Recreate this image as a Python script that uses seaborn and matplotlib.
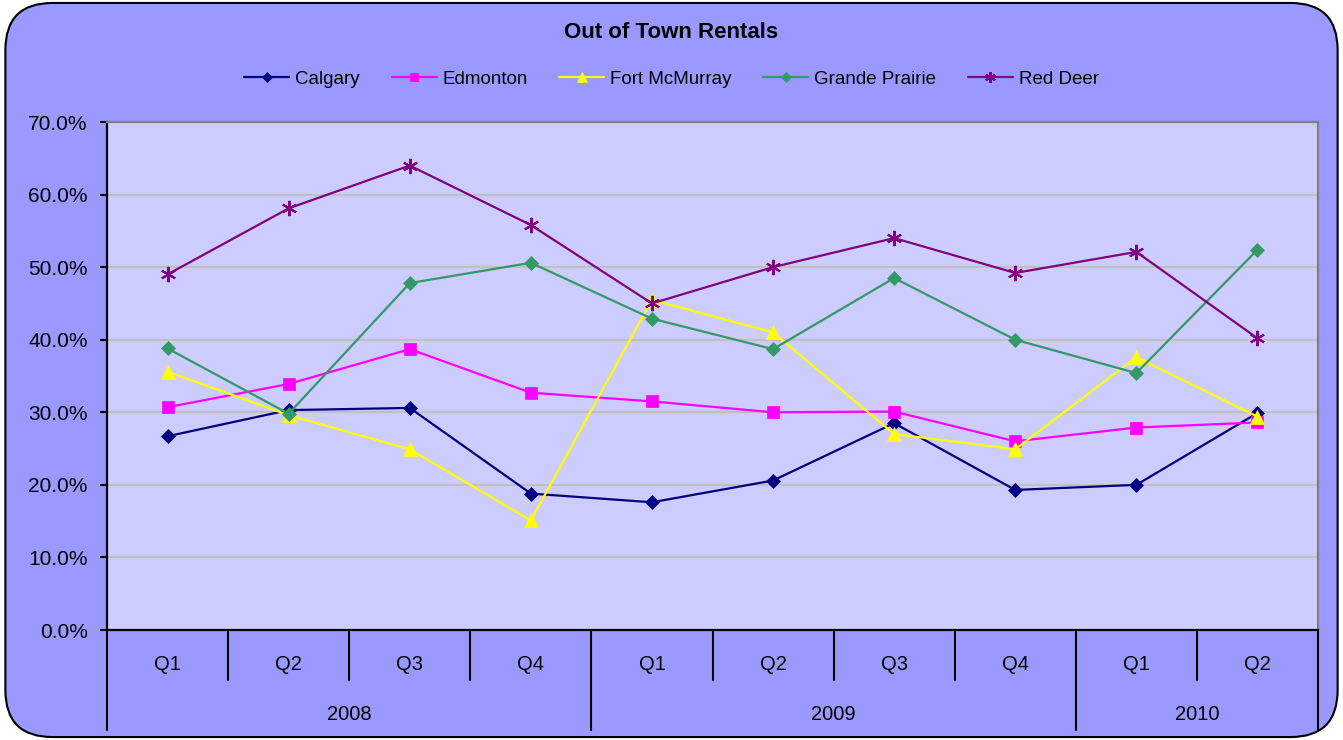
import numpy as np
import matplotlib
matplotlib.use("Agg")
import matplotlib.pyplot as plt
import seaborn as sns
from matplotlib.patches import FancyBboxPatch
from matplotlib.ticker import FuncFormatter
import matplotlib.transforms as mtransforms

# data (percent)
quarters = ["Q1", "Q2", "Q3", "Q4", "Q1", "Q2", "Q3", "Q4", "Q1", "Q2"]
years = ["2008", "2009", "2010"]
year_counts = [4, 4, 2]

calgary = [26.7, 30.3, 30.6, 18.8, 17.6, 20.6, 28.5, 19.3, 20.0, 29.9]
edmonton = [30.7, 33.9, 38.7, 32.7, 31.5, 30.0, 30.1, 26.0, 27.9, 28.6]
fort_mcmurray = [35.6, 29.6, 24.9, 15.1, 45.5, 41.0, 27.0, 24.9, 37.6, 29.4]
grande_prairie = [38.8, 29.8, 47.8, 50.6, 42.9, 38.7, 48.5, 40.0, 35.4, 52.4]
red_deer = [49.0, 58.1, 64.0, 55.8, 45.0, 50.0, 54.0, 49.2, 52.1, 40.2]

series = [
    ("Calgary", calgary, "#000080", "D", 7.5),
    ("Edmonton", edmonton, "#FF00FF", "s", 9),
    ("Fort McMurray", fort_mcmurray, "#FFFF00", "^", 9.5),
    ("Grande Prairie", grande_prairie, "#339966", "D", 7.5),
    ("Red Deer", red_deer, "#800080", (6, 2, 0), 11),
]

sns.set_style("white")
plt.rcParams['font.family'] = ['Liberation Sans', 'DejaVu Sans']
plt.rcParams['text.color'] = 'black'
plt.rcParams['ytick.color'] = 'black'

fig = plt.figure(figsize=(13.43, 7.4), dpi=100)
fig.patch.set_facecolor("white")
bg = FancyBboxPatch((0.004, 0.004), 0.992, 0.992, boxstyle="round,pad=0,rounding_size=0.035",
                    transform=fig.transFigure, facecolor="#9999FF", edgecolor="black",
                    linewidth=1.5, mutation_aspect=1343 / 740, zorder=-10)
fig.patches.append(bg)

ax = fig.add_axes([107 / 1343, 1 - 630 / 740, (1318 - 107) / 1343, (630 - 122) / 740])
ax.set_facecolor("#CCCCFF")

x = np.arange(len(quarters))
for name, vals, col, mk, ms in series:
    sns.lineplot(x=x, y=vals, ax=ax, color=col, marker=mk, markersize=ms,
                 markeredgecolor=col, markerfacecolor=col,
                 markeredgewidth=1.5 if mk == (6, 2, 0) else 0.5,
                 linewidth=1.6, label=name)

ax.set_xlim(-0.5, len(quarters) - 0.5)
ax.set_ylim(0, 70)
ax.set_yticks(np.arange(0, 71, 10))
ax.yaxis.set_major_formatter(FuncFormatter(lambda v, p: "%.1f%%" % v))
ax.yaxis.grid(True, color="#C0C0C0", linewidth=1.5)
ax.set_axisbelow(True)
ax.set_xticks([])
ax.tick_params(axis="y", direction="out", length=5, width=1.5, color="black",
               labelcolor="black", labelsize=15, pad=9, left=True)
for s in ["left", "bottom"]:
    ax.spines[s].set_color("black")
    ax.spines[s].set_linewidth(1.6)
for s in ["top", "right"]:
    ax.spines[s].set_color("#808080")
    ax.spines[s].set_linewidth(1.6)

# multi-level category axis
trans = mtransforms.blended_transform_factory(ax.transData, ax.transAxes)
for i, q in enumerate(quarters):
    ax.text(i, -0.067, q, transform=trans, ha="center", va="center", fontsize=14.5)
bounds = np.cumsum([0] + year_counts) - 0.5
for b in bounds:
    ax.plot([b, b], [0, -0.197], transform=trans, color="black", lw=1.5, clip_on=False)
for i in range(len(quarters) - 1):
    b = i + 0.5
    if b not in bounds:
        ax.plot([b, b], [0, -0.098], transform=trans, color="black", lw=1.5, clip_on=False)
for k, yr in enumerate(years):
    ax.text((bounds[k] + bounds[k + 1]) / 2, -0.167, yr, transform=trans,
            ha="center", va="center", fontsize=14.5)

ax.set_xlabel("")
ax.set_ylabel("")

handles, labels = ax.get_legend_handles_labels()
ax.legend_.remove()
fig.legend(handles, labels, loc="center", bbox_to_anchor=(0.5, 1 - 79 / 740), ncol=5,
           frameon=False, fontsize=13.5, handlelength=2.4, handletextpad=0.3,
           columnspacing=1.7, markerscale=0.7)

fig.text(0.5, 1 - 33 / 740, "Out of Town Rentals", ha="center", va="center",
         fontsize=16, fontweight="bold")

fig.savefig("out.png", dpi=100)
